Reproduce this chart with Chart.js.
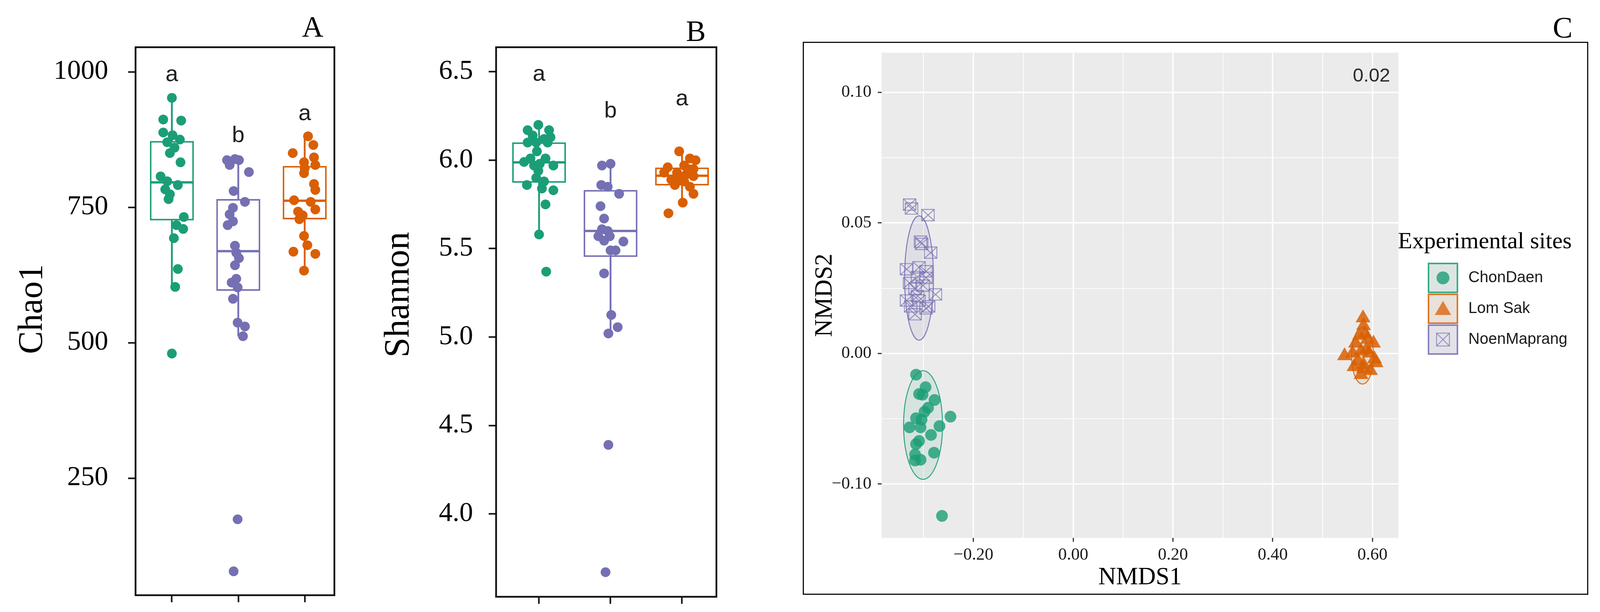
<!DOCTYPE html>
<html>
<head>
<meta charset="utf-8">
<title>Alpha and beta diversity of experimental sites</title>
<script src="https://cdn.jsdelivr.net/npm/chart.js@4.4.1/dist/chart.umd.min.js"></script>
<style>
  html, body { margin:0; padding:0; background:#fff; }
  body { width:4102px; height:1568px; position:relative; overflow:hidden; }
  canvas { position:absolute; display:block; }
  #cA { left:0; top:0; }
  #cB { left:870px; top:0; }
  #cC { left:2055px; top:107px; }
  .panel-label { position:absolute; font-family:"Liberation Serif","Times New Roman",serif; font-size:76px; line-height:1; color:#000; }
</style>
</head>
<body>
<canvas id="cA" width="900" height="1568"></canvas>
<canvas id="cB" width="1010" height="1568"></canvas>
<canvas id="cC" width="2011" height="1417"></canvas>
<div class="panel-label" style="left:773px;top:30px">A</div>
<div class="panel-label" style="left:1756px;top:41px">B</div>
<div class="panel-label" style="left:3975px;top:32px">C</div>
<script>
// ---------------- DATA ----------------
const boxGroups = ['ChonDaen', 'NoenMaprang', 'Lom Sak'];

// Panel A : Chao1
const chao1ChonDaen = [952,912,910,888,883,875,870,860,850,833,807,798,791,783,774,765,732,717,710,693,636,603,480];
const chao1ChonDaenJitter = [0,-0.13,0.14,-0.13,0.01,0.12,-0.07,0.04,-0.03,0.13,-0.17,-0.07,0.09,-0.1,-0.03,-0.05,0.18,0.07,0.17,0.03,0.09,0.05,0];
const chao1NoenMaprang = [837,839,837,828,815,780,760,749,737,724,717,679,666,656,643,618,611,602,581,537,530,512,174,78];
const chao1NoenMaprangJitter = [-0.17,-0.05,0.01,-0.13,0.16,-0.07,0.1,-0.08,-0.13,-0.08,-0.16,-0.05,-0.03,0.01,-0.05,-0.03,-0.1,-0.01,-0.08,-0.01,0.1,0.07,-0.01,-0.07];
const chao1LomSak = [881,865,850,842,833,828,822,813,793,782,763,760,746,742,735,728,697,680,668,664,633];
const chao1LomSakJitter = [0.05,0.13,-0.18,0.14,-0.01,0.16,0,-0.01,0.14,0.16,-0.16,0.09,0.16,-0.1,-0.03,-0.08,-0.01,0.04,-0.17,0.16,-0.01];
const chao1Q1 = [726, 596, 728];
const chao1Median = [796, 669, 762];
const chao1Q3 = [872, 765, 826];
const chao1Low = [603, 512, 633];
const chao1High = [952, 839, 881];
const chao1Ticks = [250, 500, 750, 1000];
const chao1Letters = ['a', 'b', 'a'];
const chao1LetterY = [983, 870, 911];

// Panel B : Shannon
const shannonChonDaen = [6.20,6.17,6.17,6.14,6.13,6.12,6.10,6.10,6.10,6.05,6.01,6.01,5.99,5.98,5.97,5.97,5.94,5.90,5.88,5.86,5.84,5.83,5.75,5.58,5.37];
const shannonChonDaenJitter = [-0.01,-0.16,0.14,-0.09,0.16,0.07,-0.16,-0.04,0.12,-0.03,-0.12,0.09,-0.21,0.01,0.2,-0.07,-0.01,-0.04,0.07,-0.17,0.04,0.2,0.09,0,0.1];
const shannonNoenMaprang = [5.97,5.98,5.86,5.85,5.81,5.74,5.67,5.61,5.60,5.57,5.57,5.545,5.54,5.49,5.49,5.36,5.125,5.056,5.02,4.39,3.67];
const shannonNoenMaprangJitter = [-0.12,0,-0.13,-0.04,0.12,-0.14,-0.09,-0.12,-0.04,-0.17,-0.01,-0.09,0.18,0,0.07,-0.09,0.01,0.1,-0.03,-0.03,-0.07];
const shannonLomSak = [6.05,6.01,6.00,5.96,5.97,5.95,5.93,5.93,5.92,5.91,5.89,5.88,5.86,5.85,5.81,5.76,5.70,5.95,5.89];
const shannonLomSakJitter = [-0.04,0.11,0.19,-0.2,0.03,0.16,-0.25,-0.07,0.06,0.16,-0.15,0.03,-0.1,0.11,0.16,0.01,-0.19,0.09,-0.04];
const shannonQ1 = [5.873, 5.454, 5.858];
const shannonMedian = [5.988, 5.600, 5.912];
const shannonQ3 = [6.100, 5.831, 5.958];
const shannonLow = [5.577, 5.021, 5.77];
const shannonHigh = [6.197, 5.975, 6.05];
const shannonTicks = [4.0, 4.5, 5.0, 5.5, 6.0, 6.5];
const shannonLetters = ['a', 'b', 'a'];
const shannonLetterY = [6.449, 6.242, 6.31];

// Panel C : NMDS
const sites = ['ChonDaen', 'Lom Sak', 'NoenMaprang'];
const nmdsChonDaenX = [-0.315,-0.296,-0.309,-0.302,-0.278,-0.291,-0.298,-0.246,-0.315,-0.304,-0.328,-0.306,-0.268,-0.285,-0.315,-0.309,-0.279,-0.317,-0.306,-0.317,-0.263];
const nmdsChonDaenY = [-0.0081,-0.0129,-0.0155,-0.0158,-0.0178,-0.0208,-0.0223,-0.0242,-0.0248,-0.0253,-0.0283,-0.0283,-0.0278,-0.0312,-0.0347,-0.0335,-0.0380,-0.0387,-0.0407,-0.0410,-0.0622];
const nmdsLomSakX = [0.581,0.582,0.544,0.585,0.602,0.566,0.577,0.593,0.604,0.571,0.582,0.596,0.577,0.588,0.560,0.607,0.590,0.574,0.582,0.563];
const nmdsLomSakY = [0.0136,0.0106,-0.0009,0.0076,0.0039,0.0039,0.0009,0.0001,-0.0021,-0.0028,-0.0043,-0.0066,-0.0081,0.0016,0.0001,-0.0036,0.0054,0.0069,-0.0058,-0.0051];
const nmdsNoenMaprangX = [-0.328,-0.324,-0.291,-0.306,-0.304,-0.286,-0.334,-0.309,-0.295,-0.312,-0.328,-0.295,-0.301,-0.317,-0.276,-0.334,-0.309,-0.326,-0.295,-0.317,-0.290,-0.312];
const nmdsNoenMaprangY = [0.0570,0.0555,0.0530,0.0428,0.0420,0.0386,0.0323,0.0330,0.0315,0.0293,0.0270,0.0290,0.0260,0.0248,0.0226,0.0203,0.0203,0.0180,0.0173,0.0150,0.0180,0.0220];
const ellipseCenterX = [-0.301, 0.580, -0.309];
const ellipseCenterY = [-0.0274, -0.0009, 0.0289];
const ellipseRadiusX = [0.039, 0.022, 0.0289];
const ellipseRadiusY = [0.0208, 0.0108, 0.0238];
const nmds1MajorTicks = [-0.2, 0, 0.2, 0.4, 0.6];
const nmds1TickLabels = ['\u22120.20', '0.00', '0.20', '0.40', '0.60'];
const nmds1MinorLines = [-0.3, -0.1, 0.1, 0.3, 0.5];
const nmds2MajorTicks = [-0.05, 0, 0.05, 0.10];
const nmds2TickLabels = ['\u22120.10', '0.00', '0.05', '0.10'];
const nmds2MinorLines = [-0.025, 0.025, 0.075];
const stressLabel = '0.02';
const stressX = 0.598, stressY = 0.1062;

// ---------------- STYLE ----------------
const GREEN = '#1B9E77', PURPLE = '#7570B3', ORANGE = '#D95F02';
const boxColors = [GREEN, PURPLE, ORANGE];
const SERIF = '"Liberation Serif", "Times New Roman", serif';
const SANS = '"Liberation Sans", Arial, Helvetica, sans-serif';

function rgba(hex, a) {
  const n = parseInt(hex.slice(1), 16);
  return 'rgba(' + ((n >> 16) & 255) + ',' + ((n >> 8) & 255) + ',' + (n & 255) + ',' + a + ')';
}

// fixed axis box size, without extra label overhang padding
function fixBox(s, key, val) {
  s[key] = val;
  s.paddingTop = 0; s.paddingBottom = 0; s.paddingLeft = 0; s.paddingRight = 0;
}

// ---------------- PLUGINS ----------------
const medianPlugin = {
  id: 'medianLines',
  afterDatasetDraw(chart, args) {
    const ds = chart.data.datasets[args.index];
    if (!ds.medians) return;
    const ctx = chart.ctx, ys = chart.scales.y;
    ctx.save();
    args.meta.data.forEach((bar, j) => {
      const y = ys.getPixelForValue(ds.medians[j]);
      ctx.strokeStyle = ds.borderColor[j];
      ctx.lineWidth = 6;
      ctx.beginPath();
      ctx.moveTo(bar.x - bar.width / 2, y);
      ctx.lineTo(bar.x + bar.width / 2, y);
      ctx.stroke();
    });
    ctx.restore();
  }
};

function makeLettersPlugin(letters, letterY) {
  return {
    id: 'groupLetters',
    afterDatasetsDraw(chart) {
      const ctx = chart.ctx, xs = chart.scales.x, ys = chart.scales.y;
      ctx.save();
      ctx.font = '58px ' + SANS;
      ctx.fillStyle = '#1f1f1f';
      ctx.textAlign = 'center';
      ctx.textBaseline = 'alphabetic';
      letters.forEach((t, i) => ctx.fillText(t, xs.getPixelForValue(i + 1), ys.getPixelForValue(letterY[i])));
      ctx.restore();
    }
  };
}

// rotated y-axis title placed where the reference has it
function makeAxisTitlePlugin(text, size, baselineX, centerY) {
  return {
    id: 'yAxisTitle',
    afterDraw(chart) {
      const ctx = chart.ctx;
      ctx.save();
      ctx.translate(baselineX, centerY);
      ctx.rotate(-Math.PI / 2);
      ctx.font = size + 'px ' + SERIF;
      ctx.fillStyle = '#000';
      ctx.textAlign = 'center';
      ctx.textBaseline = 'alphabetic';
      ctx.fillText(text, 0, 0);
      ctx.restore();
    }
  };
}

const framePlugin = {
  id: 'panelFrame',
  afterDraw(chart) {
    const {ctx, chartArea: a} = chart;
    ctx.save();
    ctx.strokeStyle = '#111';
    ctx.lineWidth = 4.5;
    ctx.strokeRect(a.left, a.top, a.width, a.height);
    ctx.restore();
  }
};

// ---------------- BOX PANELS ----------------
function boxPanel(canvasId, p) {
  const datasets = [];
  p.values.forEach((vals, g) => {
    datasets.push({
      type: 'scatter', label: boxGroups[g],
      data: vals.map((v, i) => ({x: g + 1 + p.jitter[g][i], y: v})),
      backgroundColor: boxColors[g], borderColor: boxColors[g], borderWidth: 0,
      pointRadius: 12.5, pointHoverRadius: 12.5, order: 0
    });
  });
  datasets.push({
    type: 'bar', label: 'IQR', medians: p.median,
    data: boxGroups.map((g, i) => ({x: i + 1, y: [p.q1[i], p.q3[i]]})),
    backgroundColor: '#ffffff', borderColor: boxColors, borderWidth: 4, borderSkipped: false,
    barThickness: p.boxWidth, grouped: false, order: 1
  });
  datasets.push({
    type: 'bar', label: 'whiskers',
    data: boxGroups.map((g, i) => ({x: i + 1, y: [p.low[i], p.high[i]]})),
    backgroundColor: boxColors, borderWidth: 0, barThickness: 4, grouped: false, order: 2
  });
  return new Chart(document.getElementById(canvasId), {
    type: 'scatter',
    data: {datasets},
    options: {
      responsive: false, animation: false, devicePixelRatio: 1,
      layout: {padding: p.padding},
      plugins: {legend: {display: false}, tooltip: {enabled: false}},
      scales: {
        x: {
          type: 'linear', min: p.xMin, max: p.xMax, offset: false,
          afterBuildTicks: s => { s.ticks = boxGroups.map((g, i) => ({value: i + 1})); },
          afterFit: s => fixBox(s, 'height', p.xAxisHeight),
          ticks: {display: false},
          grid: {drawOnChartArea: false, offset: false, tickLength: 18, tickWidth: 4, tickColor: '#111', color: '#111'},
          border: {display: false}
        },
        y: {
          type: 'linear', min: p.yMin, max: p.yMax,
          afterBuildTicks: s => { s.ticks = p.ticks.map(v => ({value: v})); },
          afterFit: s => fixBox(s, 'width', p.yAxisWidth),
          ticks: {font: {family: SERIF, size: 70}, color: '#000', padding: p.tickPad, callback: v => p.fmt(v)},
          grid: {drawOnChartArea: false, tickLength: 19, tickWidth: 4, tickColor: '#111', color: '#111'},
          border: {display: false},
          title: {display: false, text: p.title}
        }
      }
    },
    plugins: [medianPlugin, makeLettersPlugin(p.letters, p.letterY), framePlugin,
              makeAxisTitlePlugin(p.title, p.titleSize, p.titleX, p.titleY)]
  });
}

boxPanel('cA', {
  values: [chao1ChonDaen, chao1NoenMaprang, chao1LomSak],
  jitter: [chao1ChonDaenJitter, chao1NoenMaprangJitter, chao1LomSakJitter],
  q1: chao1Q1, median: chao1Median, q3: chao1Q3, low: chao1Low, high: chao1High,
  ticks: chao1Ticks, fmt: v => String(v), letters: chao1Letters, letterY: chao1LetterY,
  yMin: 33.9, yMax: 1045.4, xMin: 0.453, xMax: 3.447,
  boxWidth: 112, padding: {top: 121, right: 44, bottom: 0, left: 0},
  yAxisWidth: 347, xAxisHeight: 43, tickPad: 51,
  title: 'Chao1', titleSize: 88, titleX: 107, titleY: 792
});

boxPanel('cB', {
  values: [shannonChonDaen, shannonNoenMaprang, shannonLomSak],
  jitter: [shannonChonDaenJitter, shannonNoenMaprangJitter, shannonLomSakJitter],
  q1: shannonQ1, median: shannonMedian, q3: shannonQ3, low: shannonLow, high: shannonHigh,
  ticks: shannonTicks, fmt: v => v.toFixed(1), letters: shannonLetters, letterY: shannonLetterY,
  yMin: 3.531, yMax: 6.639, xMin: 0.399, xMax: 3.481,
  boxWidth: 137, padding: {top: 121, right: 46, bottom: 0, left: 0},
  yAxisWidth: 400, xAxisHeight: 39, tickPad: 40,
  title: 'Shannon', titleSize: 92, titleX: 176, titleY: 755
});

// ---------------- NMDS PANEL ----------------
function makeSquareX(color, w, h, alpha) {
  const c = document.createElement('canvas');
  c.width = w + 3; c.height = h + 3;
  const g = c.getContext('2d');
  g.globalAlpha = alpha;
  g.strokeStyle = color; g.lineWidth = 2;
  g.strokeRect(1.5, 1.5, w, h);
  g.beginPath();
  g.moveTo(1.5, 1.5); g.lineTo(w + 1.5, h + 1.5);
  g.moveTo(w + 1.5, 1.5); g.lineTo(1.5, h + 1.5);
  g.stroke();
  return c;
}
const squareCross = makeSquareX(PURPLE, 32, 29, 0.85);

function makeKey(color, drawSymbol) {
  const c = document.createElement('canvas');
  c.width = 120; c.height = 80;
  const g = c.getContext('2d');
  g.fillStyle = '#EBEBEB'; g.fillRect(38, 3, 74, 74);
  g.fillStyle = rgba(color, 0.07); g.fillRect(38, 3, 74, 74);
  g.strokeStyle = rgba(color, 0.85); g.lineWidth = 4; g.strokeRect(38, 3, 74, 74);
  drawSymbol(g, 75, 40);
  return c;
}
const keyImages = [
  makeKey(GREEN, (g, x, y) => { g.fillStyle = rgba(GREEN, 0.8); g.beginPath(); g.arc(x, y, 16.5, 0, Math.PI * 2); g.fill(); }),
  makeKey(ORANGE, (g, x, y) => { g.fillStyle = rgba(ORANGE, 0.75); g.beginPath(); g.moveTo(x, y - 20); g.lineTo(x + 21, y + 16); g.lineTo(x - 21, y + 16); g.closePath(); g.fill(); }),
  makeKey(PURPLE, (g, x, y) => { g.drawImage(makeSquareX(PURPLE, 33, 33, 0.8), x - 18, y - 18); })
];

const measureCtx = document.createElement('canvas').getContext('2d');
measureCtx.font = '40px ' + SANS;
const legendTextW = Math.max(...sites.map(s => measureCtx.measureText(s).width));
const legendWidth = 39 + 120 + 20 + legendTextW + 10;
const padRightC = Math.max(0, 2011 - 1525 - legendWidth);

const isIn = (v, arr) => v !== undefined && arr.some(a => Math.abs(a - v) < 1e-9);
const labelFor = (v, vals, labels) => { const i = vals.findIndex(a => Math.abs(a - v) < 1e-9); return i >= 0 ? labels[i] : ''; };

const panelBgPlugin = {
  id: 'panelBg',
  beforeDraw(chart) {
    const {ctx, chartArea: a} = chart;
    ctx.save();
    ctx.fillStyle = '#EBEBEB';
    ctx.fillRect(a.left, a.top, a.width, a.height);
    ctx.restore();
  },
  afterDraw(chart) {
    const ctx = chart.ctx;
    ctx.save();
    ctx.strokeStyle = '#111'; ctx.lineWidth = 3;
    ctx.strokeRect(1.5, 1.5, chart.width - 3, chart.height - 3);
    ctx.fillStyle = '#2b2b2b';
    ctx.font = '49px ' + SANS;
    ctx.textAlign = 'center'; ctx.textBaseline = 'middle';
    ctx.fillText(stressLabel, chart.scales.x.getPixelForValue(stressX), chart.scales.y.getPixelForValue(stressY));
    ctx.restore();
  }
};

const ellipseColors = [GREEN, ORANGE, PURPLE];
const ellipsePlugin = {
  id: 'siteEllipses',
  afterDatasetsDraw(chart) {
    const ctx = chart.ctx, xs = chart.scales.x, ys = chart.scales.y;
    ctx.save();
    ellipseCenterX.forEach((cxv, i) => {
      const cx = xs.getPixelForValue(cxv), cy = ys.getPixelForValue(ellipseCenterY[i]);
      const rx = Math.abs(xs.getPixelForValue(cxv + ellipseRadiusX[i]) - cx);
      const ry = Math.abs(ys.getPixelForValue(ellipseCenterY[i] + ellipseRadiusY[i]) - cy);
      ctx.beginPath();
      ctx.ellipse(cx, cy, rx, ry, 0, 0, Math.PI * 2);
      ctx.fillStyle = rgba(ellipseColors[i], 0.1);
      ctx.fill();
      ctx.strokeStyle = rgba(ellipseColors[i], 0.9);
      ctx.lineWidth = 2.5;
      ctx.stroke();
    });
    ctx.restore();
  }
};

function gridScale(min, max, majors, labels, minors, sizeKey, sizeVal, title, titlePad, tickPad) {
  return {
    type: 'linear', min, max,
    afterBuildTicks: s => { s.ticks = [...minors, ...majors].sort((a, b) => a - b).map(v => ({value: v})); },
    afterFit: s => fixBox(s, sizeKey, sizeVal),
    ticks: {autoSkip: false, maxRotation: 0, minRotation: 0, font: {family: SERIF, size: 44}, color: '#1a1a1a', padding: tickPad,
      callback: v => labelFor(v, majors, labels)},
    grid: {
      color: '#ffffff',
      lineWidth: c => isIn(c.tick && c.tick.value, majors) ? 3.5 : 1.8,
      tickLength: 10, tickWidth: 3,
      tickColor: c => isIn(c.tick && c.tick.value, majors) ? '#333333' : 'rgba(0,0,0,0)'
    },
    border: {display: false},
    title: {display: true, text: title, color: '#000', font: {family: SERIF, size: 63}, padding: titlePad}
  };
}

new Chart(document.getElementById('cC'), {
  type: 'scatter',
  data: {
    datasets: [
      {label: sites[0], data: nmdsChonDaenX.map((x, i) => ({x, y: nmdsChonDaenY[i]})),
       pointStyle: 'circle', pointRadius: 15, pointHoverRadius: 15, backgroundColor: rgba(GREEN, 0.8), borderWidth: 0},
      {label: sites[1], data: nmdsLomSakX.map((x, i) => ({x, y: nmdsLomSakY[i]})),
       pointStyle: 'triangle', pointRadius: 22, pointHoverRadius: 22, backgroundColor: rgba(ORANGE, 0.85), borderWidth: 0},
      {label: sites[2], data: nmdsNoenMaprangX.map((x, i) => ({x, y: nmdsNoenMaprangY[i]})),
       pointStyle: squareCross, pointRadius: 16, pointHoverRadius: 16, backgroundColor: 'rgba(0,0,0,0)', borderColor: PURPLE}
    ]
  },
  options: {
    responsive: false, animation: false, devicePixelRatio: 1,
    layout: {padding: {top: 28, right: padRightC, bottom: 0, left: 0}},
    plugins: {
      tooltip: {enabled: false},
      legend: {
        display: true, position: 'right', align: 'start',
        title: {display: true, text: 'Experimental sites', color: '#000', font: {family: SERIF, size: 60}, padding: {top: 455, bottom: -9}},
        labels: {
          usePointStyle: true, pointStyleWidth: 120, padding: 39, color: '#1a1a1a',
          font: {family: SANS, size: 40},
          generateLabels: () => sites.map((s, i) => ({
            text: s, pointStyle: keyImages[i], fillStyle: 'rgba(0,0,0,0)', strokeStyle: 'rgba(0,0,0,0)',
            lineWidth: 0, hidden: false, datasetIndex: i, fontColor: '#1a1a1a'
          }))
        }
      }
    },
    scales: {
      x: gridScale(-0.384, 0.652, nmds1MajorTicks, nmds1TickLabels, nmds1MinorLines, 'height', 146, 'NMDS1', {top: 0, bottom: 6}, 8),
      y: gridScale(-0.0706, 0.1152, nmds2MajorTicks, nmds2TickLabels, nmds2MinorLines, 'width', 202, 'NMDS2', {top: 20, bottom: 0}, 16)
    }
  },
  plugins: [panelBgPlugin, ellipsePlugin]
});
</script>
</body>
</html>
